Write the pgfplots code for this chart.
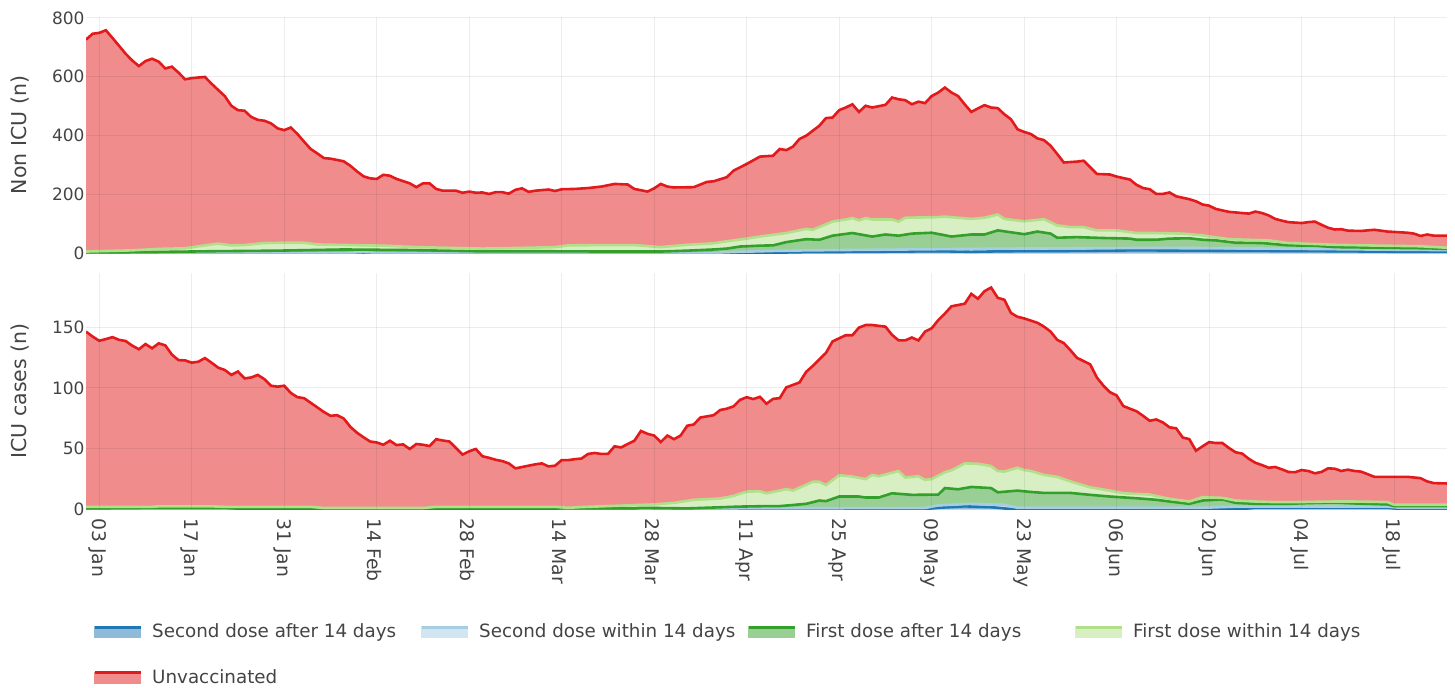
\documentclass[border=0pt]{standalone}
\usepackage{pgfplots}
\usepackage{pgfplotstable}
\pgfplotsset{compat=1.18}
\usepackage{fontspec}
\setmainfont{DejaVu Sans}
\definecolor{txtgray}{HTML}{444444}
\definecolor{redline}{HTML}{E31A1C}
\definecolor{redfill}{HTML}{F18C8D}
\definecolor{lgline}{HTML}{B2DF8A}
\definecolor{lgfill}{HTML}{D8EFC4}
\definecolor{gline}{HTML}{33A02C}
\definecolor{gfill}{HTML}{99CF95}
\definecolor{lbline}{HTML}{A6CEE3}
\definecolor{lbfill}{HTML}{D2E6F1}
\definecolor{dbline}{HTML}{1F78B4}
\definecolor{dbfill}{HTML}{8FBBD9}
\newcommand{\tickfont}{\fontsize{17bp}{20bp}\selectfont}
\newcommand{\xtickfont}{\fontsize{18.8bp}{21bp}\selectfont}
\newcommand{\titlefont}{\fontsize{20.5bp}{24bp}\selectfont}
\newcommand{\legfont}{\fontsize{18.3bp}{21bp}\selectfont}

% ---------- Non ICU (cumulative tops of stacked layers) ----------
\pgfplotstableread{
day v
1 726
2 746
3 749
4 758
5 732
7 678
8 655
9 636
10 653
11 661
12 651
13 628
14 634
15 614
16 591
17 595
19 599
20 576
22 534
23 501
24 486
25 484
26 463
27 453
28 450
29 441
30 424
31 418
32 427
33 405
34 379
35 354
36 339
37 323
38 321
40 312
41 297
42 278
43 261
44 254
45 252
46 266
47 263
48 252
50 237
51 224
52 237
53 237
54 218
55 212
57 212
58 205
59 209
60 205
61 206
62 201
63 207
64 207
65 202
66 215
67 220
68 208
69 212
71 216
72 211
73 217
75 218
77 221
79 226
81 235
83 233
84 218
86 209
87 220
88 235
89 226
90 223
93 224
94 233
95 242
96 244
98 258
99 280
101 303
103 328
105 331
106 354
107 350
108 362
109 388
110 399
111 416
112 433
113 459
114 461
115 486
116 495
117 506
118 480
119 501
120 495
122 504
123 529
124 523
125 520
126 506
127 515
128 510
129 534
130 546
131 563
132 546
133 534
134 506
135 480
136 492
137 503
138 495
139 493
140 472
141 455
142 421
143 412
144 405
145 390
146 384
147 365
148 337
149 308
151 311
152 314
153 292
154 269
156 267
157 260
158 255
159 250
160 232
161 221
162 217
163 201
164 201
165 206
166 193
167 188
168 183
169 176
170 165
171 161
172 150
173 145
174 140
175 138
177 134
178 141
179 136
180 128
181 116
182 110
183 105
185 102
186 105
187 107
188 96
189 86
190 80
191 81
192 76
194 75
196 79
198 73
201 69
202 66
203 58
204 63
205 59
207 59
}\topU
\pgfplotstableread{
day v
1 5
8 9
12 14
16 16
19 26
21 32
23 26
25 27
28 34
31 35
34 35
36 29
41 27
46 25
51 20
57 17
61 15
66 17
72 20
74 26
80 27
84 27
88 20
92 28
96 33
98 40
101 49
103 56
107 68
110 82
111 79
114 107
116 114
117 119
118 111
119 119
120 114
123 114
124 107
125 120
130 122
131 124
135 116
137 120
139 131
140 116
143 108
146 115
148 94
150 88
152 88
154 77
157 77
160 68
163 68
167 66
170 60
174 47
180 43
183 34
190 28
197 25
203 23
207 18
}\topFa
\pgfplotstableread{
day v
1 2
10 3
20 6
30 8
40 12
50 10
60 6
70 6
80 5
88 5
92 8
96 12
98 15
100 22
103 25
105 26
107 37
110 47
112 45
114 59
117 68
120 56
122 63
124 59
126 66
129 69
132 56
135 63
137 63
139 77
143 64
145 73
147 66
148 52
151 54
155 51
159 49
160 45
163 45
165 49
168 50
170 45
172 43
175 35
179 34
183 26
187 25
190 20
197 18
204 16
207 14
}\topFb
\pgfplotstableread{
day v
1 0
40 0
43 3
46 0
95 0
100 4
105 7
110 9
120 11
130 13
140 15
150 16
160 17
170 17
180 15
190 13
200 11
207 10
}\topSa
\pgfplotstableread{
day v
1 0
100 0
105 1
110 3
120 4
130 6
135 4
140 6
150 7
160 9
170 8
180 7
190 6
200 4
207 4
}\topSb

% ---------- ICU cases ----------
\pgfplotstableread{
day v
1 146.6
2 142.5
3 139
4 140.4
5 142
6 139.8
7 138.8
8 135
9 132
10 136.3
11 132.8
12 136.9
13 135.2
14 127.6
15 123
16 122.8
17 120.9
18 121.7
19 124.7
20 120.9
21 116.8
22 114.9
23 110.8
24 113.6
25 107.9
26 108.7
27 110.8
28 107.3
29 101.9
30 101.1
31 101.9
32 95.9
33 92.4
34 91.6
35 87.8
36 84
37 80.2
38 77
39 77.5
40 74.8
41 68
42 63.1
43 59.3
44 55.8
45 55
46 53.1
47 56.4
48 52.8
49 53.4
50 49.6
51 53.7
52 53.1
53 52
54 57.7
55 56.6
56 55.8
57 50.4
58 45
59 47.7
60 49.6
61 43.6
62 42.3
63 40.7
64 39.6
65 37.7
66 33.6
67 34.7
68 35.8
69 36.9
70 37.7
71 35.2
72 35.8
73 40.4
74 40.4
75 41.2
76 41.7
77 45.5
78 46.3
79 45.5
80 45.5
81 51.8
82 50.9
83 53.7
84 56.4
85 64.5
86 62.1
87 60.7
88 55.3
89 60.7
90 57.7
91 60.7
92 68.8
93 69.9
94 75.6
96 77.5
97 81.8
98 82.9
99 84.8
100 90.2
101 92.4
102 90.8
103 92.7
104 87
105 91
106 91.6
107 100.5
109 104.6
110 113.3
111 118.2
113 129
114 138.5
116 143.6
117 143.6
118 149.9
119 152
120 152
122 150.7
123 143.9
124 139.3
125 139.3
126 141.7
127 139.3
128 146.6
129 149.3
130 156.1
131 161.5
132 167.5
134 169.6
135 177.8
136 173.7
137 180
138 183
139 174.5
140 172.9
141 162
142 158.8
143 157.5
145 153.9
146 150.7
147 146.6
148 139.8
149 137.1
150 131.2
151 124.9
152 122.2
153 119.5
154 108.7
155 101.9
156 96.5
157 93.8
158 85.1
159 82.9
160 80.8
161 77
162 72.9
163 74
164 71.5
165 67.5
166 66.7
167 59.1
168 57.7
169 48.2
170 51.8
171 55.3
172 54.5
173 54.5
174 50.4
175 46.9
176 45.8
177 41.5
178 38.2
179 36.3
180 34.1
181 34.7
182 32.8
183 30.6
184 30.4
185 32.2
186 31.4
187 29.5
188 30.6
189 33.6
190 33.3
191 31.4
192 32.5
193 31.4
194 30.9
196 26.6
198 26.6
201 26.6
203 25.5
204 22.8
205 21.4
207 21.1
}\botU
\pgfplotstableread{
day v
1 1.8
11 1.8
12 2.2
20 2.2
22 1.8
35 1.8
37 0.8
52 0.8
54 1.8
72 1.8
74 1
76 1.6
83 3
87 3.8
90 5.1
93 7.6
97 8.7
99 10.8
101 14.4
103 14.6
104 13
106 15.2
107 16.5
108 15.2
111 22.5
112 22.5
113 19.8
115 27.9
117 26.8
119 24.7
120 28.2
121 27.1
124 31.4
125 26
127 27.1
128 24.1
129 24.7
131 30.4
132 32
134 37.7
136 37.4
138 35.5
139 31.4
140 30.9
142 34.1
143 32.2
144 31.4
146 28.2
148 26.6
150 22.8
153 17.9
156 15.2
158 13
162 11.9
165 8.4
168 6.2
170 9.8
173 9.2
175 7
178 6.2
181 5.7
184 5.7
190 6.2
193 6.2
198 5.7
199 3.5
207 3.5
}\botFa
\pgfplotstableread{
day v
1 0.5
12 1
22 1
24 0.3
84 0.5
85 1
92 0.5
100 2
104 2.4
106 2.4
108 3.3
110 4.3
112 7
113 6.5
115 10.3
118 10.3
119 9.5
121 9.5
123 13
126 11.7
130 11.9
131 17.3
133 16.3
135 18.2
138 17.3
139 13.8
142 15.2
144 14.1
146 13.3
150 13.3
153 11.7
156 10.3
160 8.9
163 7.6
165 6.2
168 4.3
170 7
173 7.9
175 5.1
178 4.3
183 4.3
186 4.9
190 5.4
193 4.6
198 3.8
199 2.4
207 2.4
}\botFb
\pgfplotstableread{
day v
1 0
95 0
100 0.5
128 0.8
130 3
135 4.3
140 3.5
142 1
170 1
175 2
198 2
200 1
207 1
}\botSa
\pgfplotstableread{
day v
1 0
128 0
130 1
134 2.2
138 1.5
141 0
176 0
178 1
198 1
200 0
207 0
}\botSb

\newcommand{\filllayer}[2]{%
  \addplot[fill=#2, draw=none, forget plot] table[x=day,y=v] {#1} \closedcycle;
}
\newcommand{\linelayer}[2]{%
  \addplot[#2, line width=2.6bp, forget plot] table[x=day,y=v] {#1};
}

\pgfplotsset{
  panel/.style={
    scale only axis, width=1361bp, height=236bp,
    xmin=1, xmax=207, ymin=0,
    axis line style={draw=none},
    major tick length=0pt,
    xmajorgrids, ymajorgrids,
    major grid style={black, opacity=0.07, line width=1bp},
    axis on top,
    tick label style={font=\tickfont, text=txtgray},
    /pgf/number format/assume math mode=true,
    xtick={3,17,...,199},
    yticklabel style={xshift=2bp},
    every axis y label/.style={at={(axis description cs:-0.0485,0.5)}, rotate=90, anchor=center, font=\titlefont, text=txtgray},
  },
}

\begin{document}
\begin{tikzpicture}
\useasboundingbox (0,0) rectangle (1455bp,-688bp);
\begin{axis}[panel, at={(86bp,-253bp)}, anchor=south west,
  ymax=803, ytick={0,200,400,600,800}, xticklabels={},
  ylabel={Non ICU (n)}]
\filllayer{\topU}{redfill}
\filllayer{\topFa}{lgfill}
\filllayer{\topFb}{gfill}
\filllayer{\topSa}{lbfill}
\filllayer{\topSb}{dbfill}
\linelayer{\topSb}{dbline}
\linelayer{\topSa}{lbline}
\linelayer{\topFb}{gline}
\linelayer{\topFa}{lgline}
\linelayer{\topU}{redline}
\end{axis}
\begin{axis}[panel, at={(86bp,-509bp)}, anchor=south west,
  ymax=195, ytick={0,50,100,150},
  xticklabels={03 Jan,17 Jan,31 Jan,14 Feb,28 Feb,14 Mar,28 Mar,11 Apr,25 Apr,09 May,23 May,06 Jun,20 Jun,04 Jul,18 Jul},
  xticklabel style={rotate=-90, anchor=west, xshift=6bp, yshift=-2bp, font=\xtickfont},
  ylabel={ICU cases (n)},
  legend columns=4,
  legend cell align=left,
  legend style={draw=none, fill=none, at={(0,-0.46)}, anchor=north west,
    xshift=4bp, yshift=-2bp,
    font=\legfont, text=txtgray, row sep=26bp,
    /tikz/every odd column/.append style={column sep=8bp}},
]
\addlegendimage{legend image code/.code={\fill[dbfill] (0bp,-6bp) rectangle (46bp,5bp); \draw[dbline, line width=3bp] (0bp,4bp)--(46bp,4bp);}}
\addlegendentry{\makebox[266bp][l]{Second dose after 14 days}}
\addlegendimage{legend image code/.code={\fill[lbfill] (0bp,-6bp) rectangle (46bp,5bp); \draw[lbline, line width=3bp] (0bp,4bp)--(46bp,4bp);}}
\addlegendentry{\makebox[266bp][l]{Second dose within 14 days}}
\addlegendimage{legend image code/.code={\fill[gfill] (0bp,-6bp) rectangle (46bp,5bp); \draw[gline, line width=3bp] (0bp,4bp)--(46bp,4bp);}}
\addlegendentry{\makebox[266bp][l]{First dose after 14 days}}
\addlegendimage{legend image code/.code={\fill[lgfill] (0bp,-6bp) rectangle (46bp,5bp); \draw[lgline, line width=3bp] (0bp,4bp)--(46bp,4bp);}}
\addlegendentry{\makebox[266bp][l]{First dose within 14 days}}
\addlegendimage{legend image code/.code={\fill[redfill] (0bp,-6bp) rectangle (46bp,5bp); \draw[redline, line width=3bp] (0bp,4bp)--(46bp,4bp);}}
\addlegendentry{\makebox[266bp][l]{Unvaccinated}}
\filllayer{\botU}{redfill}
\filllayer{\botFa}{lgfill}
\filllayer{\botFb}{gfill}
\filllayer{\botSa}{lbfill}
\filllayer{\botSb}{dbfill}
\linelayer{\botSb}{dbline}
\linelayer{\botSa}{lbline}
\linelayer{\botFb}{gline}
\linelayer{\botFa}{lgline}
\linelayer{\botU}{redline}
\end{axis}
\end{tikzpicture}
\end{document}
